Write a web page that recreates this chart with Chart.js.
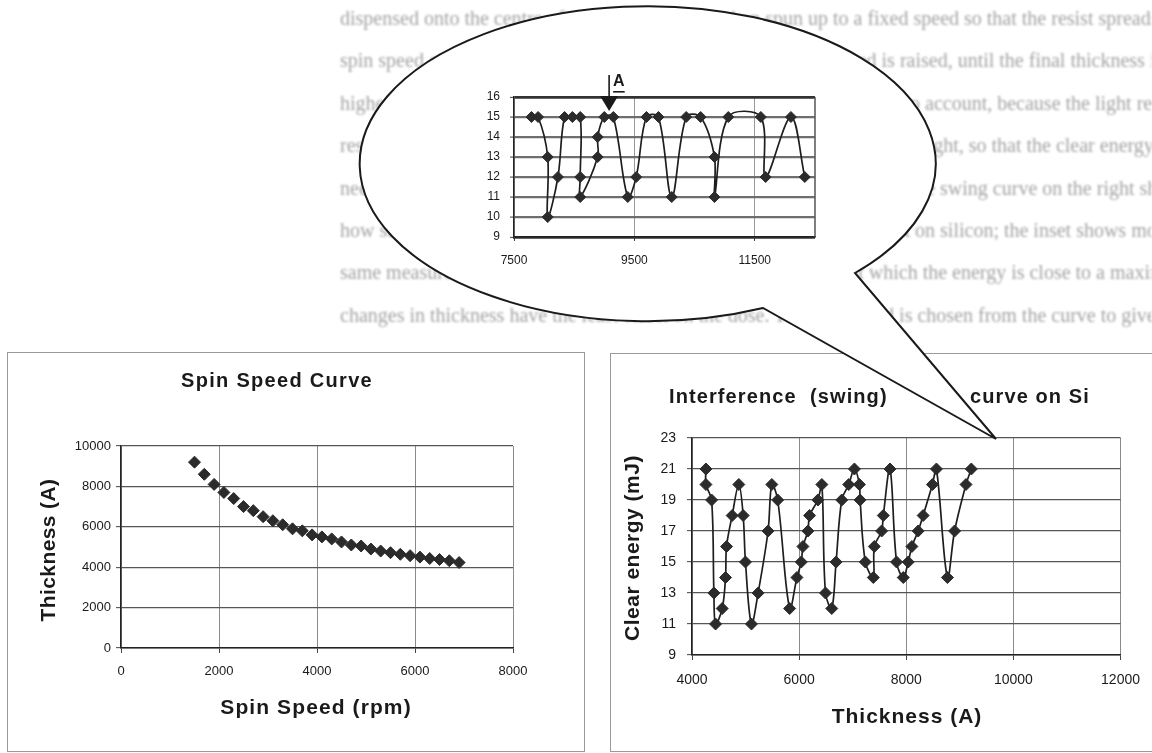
<!DOCTYPE html>
<html lang="en">
<head>
<meta charset="UTF-8" />
<title>Spin Speed and Swing Curves</title>
<script src="https://cdn.jsdelivr.net/npm/chart.js"></script>
<style>
  body {
    margin: 0;
    width: 1152px;
    height: 753px;
    overflow: hidden;
    position: relative;
    background: #fff;
    font-family: 'Liberation Sans', Arial, sans-serif;
  }
  .page-text {
    position: absolute;
    left: 340px;
    top: 0;
    width: 812px;
    height: 340px;
    overflow: hidden;
    font-family: 'Liberation Serif', 'Times New Roman', serif;
    font-size: 20px;
    line-height: 24px;
    color: #a4a4a4;
    filter: blur(0.8px);
  }
  .page-text div { position: absolute; left: 0; white-space: nowrap; }
  .box { position: absolute; border: 1px solid #9a9a9a; background: #fff; }
  #spinBox { left: 7px; top: 352px; width: 576px; height: 398px; }
  #swingBox { left: 610px; top: 353px; width: 560px; height: 397px; }
  .wrap { position: absolute; }
  #bubble { position: absolute; left: 0; top: 0; }
</style>
</head>
<body>

<div class="page-text">
  <div style="top:6px">dispensed onto the centre of the wafer, which is then spun up to a fixed speed so that the resist spreads. A typical</div>
  <div style="top:48px">spin speed curve is shown below: the film gets thinner as the speed is raised, until the final thickness is reached. The</div>
  <div style="top:91px">highest speeds. Mainly for thick films a second effect must be taken into account, because the light reaching the bubbles</div>
  <div style="top:133px">resist is partly reflected at the substrate and interferes with the incoming light, so that the clear energy is</div>
  <div style="top:176px">needed to open the resist swings up and down with the film thickness. The swing curve on the right shows the relation</div>
  <div style="top:218px">how strongly the clear energy depends on thickness for a positive resist on silicon; the inset shows more of the data</div>
  <div style="top:260px">same measurement for thicker films. Point A marks a thickness at which the energy is close to a maximum, i.e. the</div>
  <div style="top:303px">changes in thickness have the least effect on the dose. The spin speed is chosen from the curve to give this film.</div>
</div>

<div class="box" id="spinBox"></div>
<div class="box" id="swingBox"></div>

<div class="wrap" style="left:8px; top:353px;">
  <canvas id="spinChart" width="574" height="397"></canvas>
</div>
<div class="wrap" style="left:611px; top:354px;">
  <canvas id="swingChart" width="541" height="396"></canvas>
</div>

<svg id="bubble" width="1152" height="753">
  <path d="M 855 273 A 288 157.5 0 1 0 763 308 L 996 439 Z"
        fill="#fff" stroke="#1a1a1a" stroke-width="2" stroke-linejoin="miter" />
</svg>

<div class="wrap" style="left:440px; top:60px;">
  <canvas id="zoomChart" width="420" height="220"></canvas>
</div>

<script>
  // spin speed curve
  const spinSpeed = [1500, 1700, 1900, 2100, 2300, 2500, 2700, 2900, 3100, 3300, 3500, 3700, 3900, 4100,
                     4300, 4500, 4700, 4900, 5100, 5300, 5500, 5700, 5900, 6100, 6300, 6500, 6700, 6900];
  const spinThickness = [9200, 8600, 8100, 7700, 7400, 7000, 6800, 6500, 6300, 6100, 5900, 5800, 5600, 5500,
                         5400, 5250, 5100, 5050, 4900, 4800, 4720, 4640, 4570, 4500, 4430, 4380, 4320, 4230];
  const spinXTicks = [0, 2000, 4000, 6000, 8000];
  const spinYTicks = [0, 2000, 4000, 6000, 8000, 10000];

  // swing curve on Si
  const swingThickness = [4260, 4260, 4366, 4409, 4440, 4564, 4626, 4645, 4750, 4874, 4955, 4998, 5110, 5234,
                          5420, 5490, 5600, 5823, 5959, 6040, 6071, 6164, 6195, 6350, 6424, 6492, 6609, 6690,
                          6796, 6926, 7032, 7125, 7138, 7236, 7385, 7404, 7540, 7571, 7696, 7819, 7944, 8036,
                          8105, 8222, 8315, 8488, 8563, 8768, 8902, 9115, 9214];
  const swingEnergy = [21, 20, 19, 13, 11, 12, 14, 16, 18, 20, 18, 15, 11, 13,
                       17, 20, 19, 12, 14, 15, 16, 17, 18, 19, 20, 13, 12, 15,
                       19, 20, 21, 20, 19, 15, 14, 16, 17, 18, 21, 15, 14, 15,
                       16, 17, 18, 20, 21, 14, 17, 20, 21];
  const swingXTicks = [4000, 6000, 8000, 10000, 12000];
  const swingYTicks = [9, 11, 13, 15, 17, 19, 21, 23];

  // detail for thicker films
  const zoomThickness = [7790, 7900, 8060, 8060, 8230, 8340, 8470, 8600, 8600, 8600, 8890, 8890, 9000, 9150,
                         9390, 9530, 9700, 9900, 10120, 10360, 10600, 10830, 10830, 11060, 11600, 11680, 12100, 12330];
  const zoomEnergy = [15, 15, 13, 10, 12, 15, 15, 15, 12, 11, 13, 14, 15, 15,
                      11, 12, 15, 15, 11, 15, 15, 13, 11, 15, 15, 12, 15, 12];
  const zoomXTicks = [7500, 9500, 11500];
  const zoomYTicks = [9, 10, 11, 12, 13, 14, 15, 16];
  const markA = { x: 9080, y: 15, label: 'A' };

  const FONT = "'Liberation Sans', Arial, sans-serif";
  const INK = '#1a1a1a';

  const toPoints = (xs, ys) => xs.map((x, i) => ({ x, y: ys[i] }));

  function axis(min, max, ticks, o) {
    return {
      type: 'linear',
      min, max,
      afterBuildTicks: s => { s.ticks = ticks.map(v => ({ value: v })); },
      afterFit: s => {
        if (o.width) s.width = o.width;
        if (o.height) s.height = o.height;
      },
      grid: {
        color: o.gridColor,
        lineWidth: o.gridWidth,
        tickLength: o.tickLength,
        tickColor: '#444',
        tickWidth: 1
      },
      border: { color: '#222', width: 1.5 },
      ticks: {
        color: INK,
        font: { family: FONT, size: o.fontSize },
        padding: o.padding,
        maxRotation: 0,
        autoSkip: false,
        callback: v => String(v)
      }
    };
  }

  // titles and axis names drawn at fixed spots in the canvas
  const textPlugin = {
    id: 'chartText',
    afterDraw(chart, args, opts) {
      const ctx = chart.ctx;
      (opts.items || []).forEach(t => {
        ctx.save();
        ctx.fillStyle = INK;
        ctx.font = t.font;
        ctx.letterSpacing = (t.spacing || 0) + 'px';
        ctx.textAlign = t.align || 'center';
        ctx.textBaseline = 'middle';
        ctx.translate(t.x, t.y);
        if (t.rotate) ctx.rotate(t.rotate);
        ctx.fillText(t.text, 0, 0);
        ctx.restore();
      });
    }
  };

  // right edge of the inset plot plus the arrow pointing at A
  const markPlugin = {
    id: 'pointMark',
    afterDraw(chart, args, o) {
      const { ctx, chartArea, scales: { x, y } } = chart;
      ctx.save();
      ctx.strokeStyle = '#555';
      ctx.lineWidth = 1.5;
      ctx.beginPath();
      ctx.moveTo(chartArea.right, chartArea.top);
      ctx.lineTo(chartArea.right, chartArea.bottom);
      ctx.stroke();

      const px = x.getPixelForValue(o.x);
      const tip = y.getPixelForValue(o.y) - 6;
      ctx.strokeStyle = ctx.fillStyle = INK;
      ctx.lineWidth = 1.6;
      ctx.beginPath();
      ctx.moveTo(px, tip - 36);
      ctx.lineTo(px, tip - 12);
      ctx.stroke();
      ctx.beginPath();
      ctx.moveTo(px - 9, tip - 15);
      ctx.lineTo(px + 9, tip - 15);
      ctx.lineTo(px, tip);
      ctx.closePath();
      ctx.fill();
      ctx.font = 'bold 16px ' + FONT;
      ctx.textAlign = 'left';
      ctx.textBaseline = 'middle';
      ctx.fillText(o.label, px + 4, tip - 29);
      const w = ctx.measureText(o.label).width;
      ctx.fillRect(px + 4, tip - 20, w, 1.6);
      ctx.restore();
    }
  };

  const baseOptions = {
    responsive: false,
    animation: false,
    events: []
  };

  const diamonds = r => ({
    pointStyle: 'rectRot',
    pointRadius: r,
    pointBackgroundColor: '#2b2b2b',
    pointBorderColor: '#2b2b2b',
    pointBorderWidth: 1
  });

  new Chart(document.getElementById('spinChart'), {
    type: 'scatter',
    data: {
      datasets: [{
        data: toPoints(spinSpeed, spinThickness),
        showLine: false,
        ...diamonds(6)
      }]
    },
    options: {
      ...baseOptions,
      layout: { padding: { left: 53, right: 69, top: 93, bottom: 42 } },
      plugins: {
        legend: { display: false },
        tooltip: { enabled: false },
        chartText: {
          items: [
            { text: 'Spin Speed Curve', x: 269, y: 28, font: 'bold 20px ' + FONT, spacing: 1.3 },
            { text: 'Spin Speed (rpm)', x: 308, y: 355, font: 'bold 21px ' + FONT, spacing: 1.1 },
            { text: 'Thickness (A)', x: 41, y: 197, font: 'bold 21px ' + FONT, spacing: 0.4, rotate: -Math.PI / 2 }
          ]
        }
      },
      scales: {
        x: axis(0, 8000, spinXTicks, { height: 60, gridColor: '#8a8a8a', gridWidth: 1, tickLength: 5, padding: 11, fontSize: 13 }),
        y: axis(0, 10000, spinYTicks, { width: 60, gridColor: '#555', gridWidth: 1.3, tickLength: 5, padding: 5, fontSize: 13 })
      }
    },
    plugins: [textPlugin]
  });

  new Chart(document.getElementById('swingChart'), {
    type: 'scatter',
    data: {
      datasets: [{
        data: toPoints(swingThickness, swingEnergy),
        showLine: true,
        tension: 0.35,
        borderColor: '#1e1e1e',
        borderWidth: 1.7,
        ...diamonds(6)
      }]
    },
    options: {
      ...baseOptions,
      layout: { padding: { left: 31, right: 30, top: 84, bottom: 35 } },
      plugins: {
        legend: { display: false },
        tooltip: { enabled: false },
        chartText: {
          items: [
            { text: 'Interference  (swing)', x: 58, y: 43, align: 'left', font: 'bold 20px ' + FONT, spacing: 1.1 },
            { text: 'curve on Si', x: 359, y: 43, align: 'left', font: 'bold 20px ' + FONT, spacing: 1.1 },
            { text: 'Clear energy (mJ)', x: 22, y: 194, font: 'bold 21px ' + FONT, spacing: 0.5, rotate: -Math.PI / 2 },
            { text: 'Thickness (A)', x: 296, y: 363, font: 'bold 21px ' + FONT, spacing: 1 }
          ]
        }
      },
      scales: {
        x: axis(4000, 12000, swingXTicks, { height: 60, gridColor: '#8a8a8a', gridWidth: 1, tickLength: 5, padding: 12, fontSize: 14 }),
        y: axis(9, 23, swingYTicks, { width: 50, gridColor: '#555', gridWidth: 1.3, tickLength: 5, padding: 11, fontSize: 14 })
      }
    },
    plugins: [textPlugin]
  });

  const zoomY = axis(9, 16, zoomYTicks, { width: 30, gridColor: '#6e6e6e', gridWidth: 2.2, tickLength: 4, padding: 10, fontSize: 12 });
  const zoomEdge = c => c.tick && (c.tick.value === 16 || c.tick.value === 9);
  zoomY.grid.color = c => zoomEdge(c) ? '#333' : '#6e6e6e';
  zoomY.grid.lineWidth = c => zoomEdge(c) ? 2.8 : 2.2;

  new Chart(document.getElementById('zoomChart'), {
    type: 'scatter',
    data: {
      datasets: [{
        data: toPoints(zoomThickness, zoomEnergy),
        showLine: true,
        tension: 0.35,
        borderColor: '#1e1e1e',
        borderWidth: 1.7,
        ...diamonds(5.5)
      }]
    },
    options: {
      ...baseOptions,
      layout: { padding: { left: 44, right: 45, top: 37, bottom: 13 } },
      plugins: {
        legend: { display: false },
        tooltip: { enabled: false },
        pointMark: markA
      },
      scales: {
        x: axis(7500, 12500, zoomXTicks, { height: 30, gridColor: '#999', gridWidth: 1, tickLength: 4, padding: 12, fontSize: 12 }),
        y: zoomY
      }
    },
    plugins: [markPlugin]
  });
</script>
</body>
</html>
